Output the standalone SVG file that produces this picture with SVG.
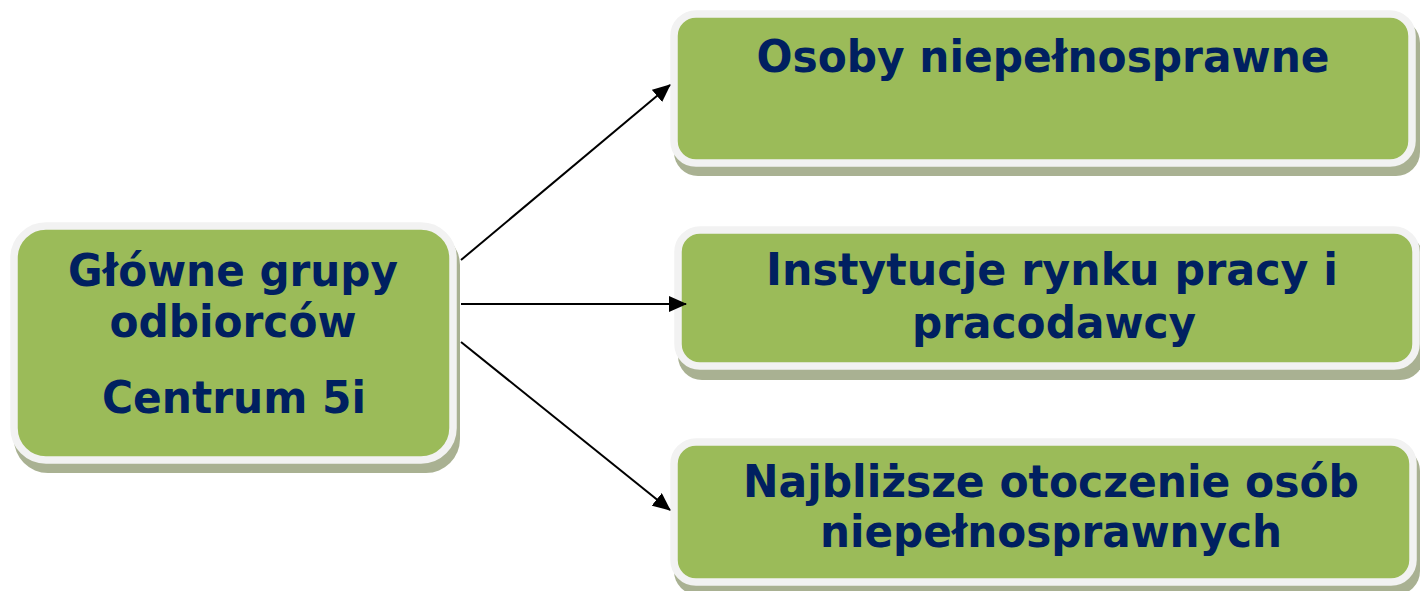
<svg xmlns="http://www.w3.org/2000/svg" width="1420" height="591" viewBox="0 0 1420 591">
<style>
.shadow{fill:#a9b192}
.box{fill:#9bbb59;stroke:#f2f2f2;stroke-width:7.5}
.t{font-family:"DejaVu Sans",Verdana,sans-serif;font-weight:bold;fill:#002060;text-anchor:middle}
.c{stroke:#000;stroke-width:2;fill:none}
</style>
<defs>
<marker id="ah" viewBox="0 0 18 16" refX="17" refY="8" markerWidth="18" markerHeight="16" markerUnits="userSpaceOnUse" orient="auto">
<path d="M0,0 L18,8 L0,16 Z" fill="#000"/>
</marker>
</defs>
<g id="main">
<rect class="shadow" x="14" y="231" width="446" height="242" rx="34"/>
<rect class="box" x="14" y="226" width="439" height="234" rx="32"/>
<text class="t" x="233" y="286" font-size="44" textLength="330" lengthAdjust="spacingAndGlyphs">Główne grupy</text>
<text class="t" x="233" y="337" font-size="44" textLength="247" lengthAdjust="spacingAndGlyphs">odbiorców</text>
<text class="t" x="234" y="413" font-size="44" textLength="264" lengthAdjust="spacingAndGlyphs">Centrum 5i</text>
</g>
<g id="n1">
<rect class="shadow" x="674" y="19" width="746" height="157" rx="24"/>
<rect class="box" x="674" y="14" width="738" height="149" rx="22"/>
<text class="t" x="1043" y="72" font-size="45" textLength="573" lengthAdjust="spacingAndGlyphs">Osoby niepełnosprawne</text>
</g>
<g id="n2">
<rect class="shadow" x="678" y="235" width="746" height="145" rx="24"/>
<rect class="box" x="678" y="230" width="738" height="136" rx="22"/>
<text class="t" x="1052" y="285" font-size="45" textLength="572" lengthAdjust="spacingAndGlyphs">Instytucje rynku pracy i</text>
<text class="t" x="1054" y="338" font-size="45" textLength="284" lengthAdjust="spacingAndGlyphs">pracodawcy</text>
</g>
<g id="n3">
<rect class="shadow" x="674" y="447" width="746" height="148" rx="24"/>
<rect class="box" x="674" y="442" width="739" height="140" rx="22"/>
<text class="t" x="1051" y="497" font-size="44" textLength="616" lengthAdjust="spacingAndGlyphs">Najbliższe otoczenie osób</text>
<text class="t" x="1051" y="547" font-size="44" textLength="462" lengthAdjust="spacingAndGlyphs">niepełnosprawnych</text>
</g>
<g id="connectors">
<line class="c" x1="461" y1="260" x2="670" y2="85" marker-end="url(#ah)"/>
<line class="c" x1="461" y1="304" x2="686" y2="304" marker-end="url(#ah)"/>
<line class="c" x1="461" y1="342" x2="670" y2="510" marker-end="url(#ah)"/>
</g>
</svg>
